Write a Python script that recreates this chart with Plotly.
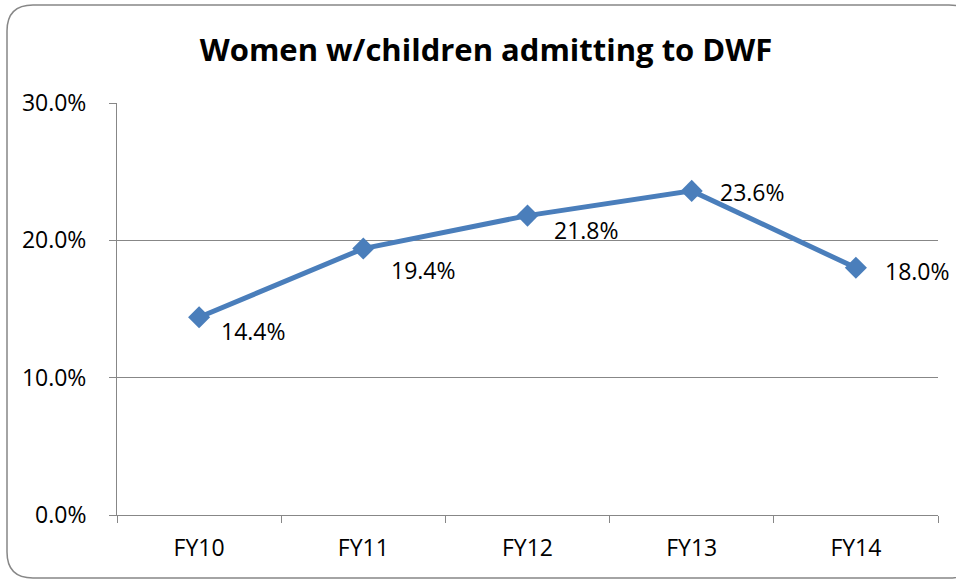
import plotly.graph_objects as go

categories = ["FY10", "FY11", "FY12", "FY13", "FY14"]
values = [0.144, 0.194, 0.218, 0.236, 0.180]
value_labels = ["14.4%", "19.4%", "21.8%", "23.6%", "18.0%"]
y_tickvals = [0.0, 0.1, 0.2, 0.3]
y_ticktext = ["0.0%", "10.0%", "20.0%", "30.0%"]

# per-label pixel offsets (style)
label_shift_x = [20, 26, 24, 26, 27]
label_shift_y = [-14, -21, -14, -1, -3]

OFF = 0  # page body margin removed via post_script
W, H = 956, 581
# target screen positions of the plot area
SL, SR, ST, SB = 117, 938, 103, 515
L, T = SL - OFF, ST - OFF
pw, ph = SR - SL, SB - ST
R, B = W - L - pw, H - T - ph

FONT = "Open Sans, Carlito, Calibri, sans-serif"
LINE_COLOR = "#4A7EBB"
GRID = "#878787"

fig = go.Figure()
fig.add_trace(go.Scatter(
    x=categories, y=values, mode="lines+markers",
    line=dict(color=LINE_COLOR, width=5),
    marker=dict(symbol="diamond", size=17, color=LINE_COLOR),
    hoverinfo="skip", showlegend=False, cliponaxis=False,
))

for c, v, t, dx, dy in zip(categories, values, value_labels, label_shift_x, label_shift_y):
    fig.add_annotation(x=c, y=v, text=t, showarrow=False, xanchor="left", yanchor="middle",
                       xshift=dx, yshift=dy, font=dict(family=FONT, size=23, color="#000000"))

# rounded outer chart border (screen pixel -> paper conversion)
def px(x):
    return (x - SL) / pw

def py(y):
    return (SB - y) / ph

x0, y0, x1, y1, r = 7, 5, 975, 578, 26
path = (f"M {px(x0 + r)},{py(y0)} L {px(x1 - r)},{py(y0)} "
        f"Q {px(x1)},{py(y0)} {px(x1)},{py(y0 + r)} "
        f"L {px(x1)},{py(y1 - r)} Q {px(x1)},{py(y1)} {px(x1 - r)},{py(y1)} "
        f"L {px(x0 + r)},{py(y1)} Q {px(x0)},{py(y1)} {px(x0)},{py(y1 - r)} "
        f"L {px(x0)},{py(y0 + r)} Q {px(x0)},{py(y0)} {px(x0 + r)},{py(y0)} Z")
fig.add_shape(type="path", path=path, xref="paper", yref="paper",
              line=dict(color=GRID, width=1.5), layer="below")

fig.update_layout(
    width=W, height=H,
    margin=dict(l=L, r=R, t=T, b=B),
    paper_bgcolor="white", plot_bgcolor="white",
    font=dict(family=FONT, size=23, color="#000000"),
    title=dict(text="<b>Women w/children admitting to DWF</b>",
               x=(486 - OFF) / W, xref="container", xanchor="center",
               y=1 - (50 - OFF) / H, yref="container", yanchor="middle",
               font=dict(family=FONT, size=31, color="#000000")),
    xaxis=dict(type="category", range=[-0.5, 4.5], tickson="boundaries",
               ticks="outside", ticklen=7, tickcolor=GRID, tickwidth=1,
               showline=True, linecolor=GRID, linewidth=1, showgrid=False,
               tickfont=dict(family=FONT, size=23), ticklabelstandoff=12),
    yaxis=dict(range=[0, 0.3], tickvals=y_tickvals, ticktext=y_ticktext,
               ticks="outside", ticklen=7, tickcolor=GRID, tickwidth=1,
               showline=True, linecolor=GRID, linewidth=1,
               showgrid=True, gridcolor=GRID, gridwidth=1, zeroline=False,
               tickfont=dict(family=FONT, size=23), ticklabelstandoff=18),
)

fig.write_html("out.html",
               config={"displayModeBar": False, "staticPlot": True},
               post_script="document.body.style.margin='0';document.body.style.overflow='hidden';")
